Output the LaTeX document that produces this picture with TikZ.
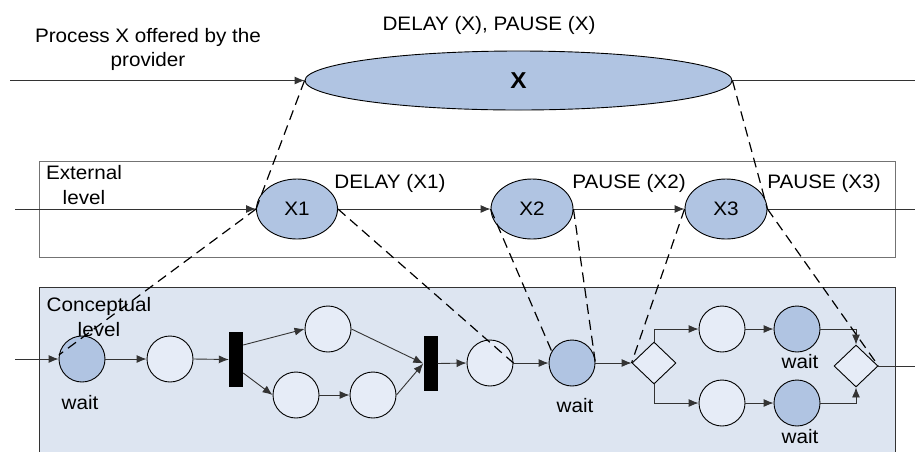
\documentclass[tikz,border=0pt]{standalone}
\usepackage{fontspec}
\setmainfont[FakeStretch=1.06]{Liberation Sans}
\usetikzlibrary{arrows.meta,shapes.geometric}

\definecolor{darkfill}{HTML}{B0C4E2}
\definecolor{lightfill}{HTML}{E6ECF7}
\definecolor{panelfill}{HTML}{DDE5F1}
\definecolor{wire}{HTML}{333333}

\tikzset{
  txt/.style={font=\fontsize{19.5}{24.5}\selectfont, align=center, inner sep=0pt},
  oval/.style={ellipse, draw=black, fill=darkfill, line width=0.9pt, inner sep=0pt},
  place/.style={circle, draw=black, line width=0.9pt, minimum size=46pt, inner sep=0pt, fill=lightfill},
  busy/.style={place, fill=darkfill},
  bar/.style={rectangle, fill=black, minimum width=14pt, minimum height=55pt, inner sep=0pt},
  gate/.style={diamond, draw=black, line width=0.9pt, fill=lightfill, minimum width=44pt, minimum height=42pt, inner sep=0pt},
  flow/.style={draw=wire, line width=0.9pt, -{Latex[length=10pt,width=8pt]}},
  plain/.style={draw=wire, line width=0.9pt},
  map/.style={draw=black, line width=1.2pt, dash pattern=on 10pt off 6pt},
}

\begin{document}
\begin{tikzpicture}[x=1pt,y=-1pt]
\useasboundingbox (0,0) rectangle (915,451);
\clip (0,0) rectangle (915,451);

% level panels
\draw[draw=gray!90!black, line width=1pt] (39,161) rectangle (895,257);
\draw[draw=wire, line width=1pt, fill=panelfill] (39,287) rectangle (895,470);

% captions
\node[txt] (lblProc) at (148,49.5) {Process X offered by the\\provider};
\node[txt] (lblTop) at (489,25) {DELAY (X), PAUSE (X)};
\node[txt] (lblExt) at (84,185) {External\\level};
\node[txt] (lblCon) at (99,317) {Conceptual\\level};
\node[txt] (lblD1) at (390,183) {DELAY (X1)};
\node[txt] (lblP2) at (629,183) {PAUSE (X2)};
\node[txt] (lblP3) at (824,183) {PAUSE (X3)};

% provider process
\node[oval, minimum width=427pt, minimum height=59pt] (px) at (518.5,80.5) {\fontsize{23}{26}\selectfont\bfseries X};
\coordinate (pxIn) at (10,80.5);
\coordinate (pxOut) at (915,80.5);

% external level
\node[oval, minimum width=81pt, minimum height=60pt] (x1) at (297,209) {\fontsize{19.5}{24}\selectfont X1};
\node[oval, minimum width=82pt, minimum height=60pt] (x2) at (532,209) {\fontsize{19.5}{24}\selectfont X2};
\node[oval, minimum width=82pt, minimum height=60pt] (x3) at (726,209) {\fontsize{19.5}{24}\selectfont X3};
\coordinate (extIn) at (15,209);
\coordinate (extOut) at (915,209);

% conceptual level
\node[busy] (w1) at (82,359) {};
\node[place] (p2) at (170,359) {};
\node[bar] (t1) at (236,359.5) {};
\node[place] (pt) at (328,329) {};
\node[place] (pbl) at (296,395) {};
\node[place] (pbr) at (373,395) {};
\node[bar] (t2) at (430.5,363.5) {};
\node[place] (p3) at (490,363) {};
\node[busy] (w2) at (572,363) {};
\node[gate] (g1) at (654,363) {};
\node[place] (pa) at (722,329) {};
\node[busy] (wa) at (797,329) {};
\node[place] (pb) at (722,403) {};
\node[busy] (wb) at (797,403) {};
\node[gate] (g2) at (856,366) {};
\coordinate (conIn) at (15,359);
\coordinate (conOut) at (915,366);
\coordinate (joinTop) at (856,329);
\coordinate (joinBot) at (856,403);

\node[txt] (lw1) at (80,403) {wait};
\node[txt] (lw2) at (575,406) {wait};
\node[txt] (lwa) at (800,362) {wait};
\node[txt] (lwb) at (800,437) {wait};

% solid flow
\draw[flow] (pxIn) -- (px.west);
\draw[plain] (px.east) -- (pxOut);

\draw[flow] (extIn) -- (x1.west);
\draw[flow] (x1.east) -- (x2.west);
\draw[flow] (x2.east) -- (x3.west);
\draw[plain] (x3.east) -- (extOut);

\draw[flow] (conIn) -- (w1.west);
\draw[flow] (w1.east) -- (p2.west);
\draw[flow] (p2.east) -- (t1.west);
\draw[flow] (t1.east |- 0,345) -- (pt.west);
\draw[flow] (t1.east |- 0,373) -- (pbl.west);
\draw[flow] (pbl.east) -- (pbr.west);
\draw[flow] (pt.east) -- (t2.west);
\draw[flow] (pbr.east) -- (t2.west);
\draw[flow] (t2.east) -- (p3.west);
\draw[flow] (p3.east) -- (w2.west);
\draw[flow] (w2.east) -- (g1.west);
\draw[flow] (g1.north) |- (pa.west);
\draw[flow] (g1.south) |- (pb.west);
\draw[flow] (pa.east) -- (wa.west);
\draw[flow] (pb.east) -- (wb.west);
\draw[flow] (wa.east) -- (joinTop) -- (g2.north);
\draw[flow] (wb.east) -- (joinBot) -- (g2.south);
\draw[plain] (g2.east) -- (conOut);

% refinement mapping between levels
\draw[map] (px.west) -- (x1.west);
\draw[map] (px.east) -- (x3.east);
\draw[map] (x1.west) -- (w1.170);
\draw[map] (x1.east) -- (p3.east);
\draw[map] (x2.west) -- (w2.150);
\draw[map] (x2.east) -- (w2.east);
\draw[map] (x3.west) -- (g1.west);
\draw[map] (x3.east) -- (g2.east);
\end{tikzpicture}
\end{document}
